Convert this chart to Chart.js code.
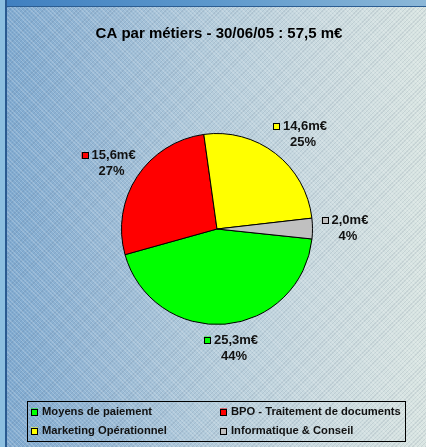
<!DOCTYPE html>
<html>
<head>
<meta charset="utf-8">
<script src="https://cdn.jsdelivr.net/npm/chart.js@4"></script>
<style>
  html, body { margin:0; padding:0; width:426px; height:447px; overflow:hidden; }
  body {
    position:relative;
    background:
      repeating-linear-gradient(45deg, rgba(255,255,255,0.18) 0px, rgba(255,255,255,0.18) 1px, rgba(0,0,0,0) 1px, rgba(0,0,0,0) 3px),
      repeating-linear-gradient(-45deg, rgba(40,60,90,0.10) 0px, rgba(40,60,90,0.10) 1px, rgba(0,0,0,0) 1px, rgba(0,0,0,0) 3px),
      linear-gradient(90deg, #7ea9d0 0%, #99bad6 25%, #b5cddc 50%, #cbdbe0 75%, #d9e5e2 100%);
  }
  #topbar { position:absolute; left:0; top:0; width:426px; height:6px;
    background: linear-gradient(90deg, #3f7fc0 0%, #5d98cc 50%, #8cb8d8 100%); border-bottom:1px solid #2b5d92; }
  #leftbar { position:absolute; left:0; top:0; width:5px; height:447px; background:#8cbfe0; border-right:2px solid #2a5a90; }
  #wrap { position:absolute; left:0; top:0; width:426px; height:447px; }
</style>
</head>
<body>
<div id="topbar"></div>
<div id="leftbar"></div>
<div id="wrap"><canvas id="c" width="426" height="447"></canvas></div>
<script>
const titleText = 'CA par métiers - 30/06/05 : 57,5 m€';
const categories = ['Moyens de paiement', 'BPO - Traitement de documents', 'Marketing Opérationnel', 'Informatique & Conseil'];
const values = [25.3, 15.6, 14.6, 2.0];
const valueLabels = ['25,3m€', '15,6m€', '14,6m€', '2,0m€'];
const percentLabels = ['44%', '27%', '25%', '4%'];
const colors = ['#00ff00', '#ff0000', '#ffff00', '#c0c0c0'];

const FONT = '"Liberation Sans", Arial, sans-serif';

const decorPlugin = {
  id: 'decor',
  afterDraw(chart) {
    const ctx = chart.ctx;
    ctx.save();
    // Title
    ctx.fillStyle = '#000';
    ctx.font = 'bold 15px ' + FONT;
    ctx.textAlign = 'center';
    ctx.textBaseline = 'middle';
    ctx.fillText(titleText, 219, 34);

    // Data labels
    const meta = chart.getDatasetMeta(0);
    ctx.font = 'bold 13px ' + FONT;
    meta.data.forEach((arc, i) => {
      const mid = (arc.startAngle + arc.endAngle) / 2;
      const dx = Math.cos(mid), dy = Math.sin(mid);
      const R = arc.outerRadius + 9;
      const ax = arc.x + R * dx, ay = arc.y + R * dy;
      const sq = 7, gap = 3;
      const w1 = sq + gap + ctx.measureText(valueLabels[i]).width;
      const w2 = ctx.measureText(percentLabels[i]).width;
      const w = Math.max(w1, w2), h = 30;
      const shift = 3 * Math.abs(dy);
      const cx = ax + dx * w / 2 + shift, cy = ay + dy * h / 2;
      const left = cx - w / 2;
      const y1 = cy - 8, y2 = cy + 8;
      ctx.fillStyle = colors[i];
      ctx.fillRect(left, y1 - 3.5, sq, sq);
      ctx.strokeStyle = '#000';
      ctx.lineWidth = 1;
      ctx.strokeRect(Math.round(left) + 0.5, Math.round(y1 - 3.5) + 0.5, sq - 1, sq - 1);
      ctx.fillStyle = '#111';
      ctx.textAlign = 'left';
      ctx.textBaseline = 'middle';
      ctx.fillText(valueLabels[i], left + sq + gap, y1);
      ctx.textAlign = 'center';
      ctx.fillText(percentLabels[i], cx + 3, y2);
    });

    // Legend
    ctx.strokeStyle = '#000';
    ctx.lineWidth = 1;
    ctx.strokeRect(27.5, 401.5, 378, 40);
    ctx.font = 'bold 11.2px ' + FONT;
    ctx.textAlign = 'left';
    ctx.textBaseline = 'middle';
    const pos = [[31, 412], [220, 412], [31, 431], [220, 431]];
    categories.forEach((lab, i) => {
      const [x, y] = pos[i];
      ctx.fillStyle = colors[i];
      ctx.fillRect(x, y - 3.5, 7, 7);
      ctx.strokeStyle = '#000';
      ctx.strokeRect(x + 0.5, Math.round(y - 3.5) + 0.5, 6, 6);
      ctx.fillStyle = '#111';
      ctx.fillText(lab, x + 11, y);
    });
    ctx.restore();
  }
};

new Chart(document.getElementById('c'), {
  type: 'pie',
  data: {
    labels: categories,
    datasets: [{
      data: values,
      backgroundColor: colors,
      borderColor: '#000',
      borderWidth: 1
    }]
  },
  options: {
    responsive: false,
    devicePixelRatio: 1,
    animation: false,
    rotation: 96,
    layout: { padding: { left: 121, right: 113, top: 133, bottom: 122 } },
    plugins: {
      legend: { display: false },
      title: { display: false },
      tooltip: { enabled: false }
    }
  },
  plugins: [decorPlugin]
});
</script>
</body>
</html>
